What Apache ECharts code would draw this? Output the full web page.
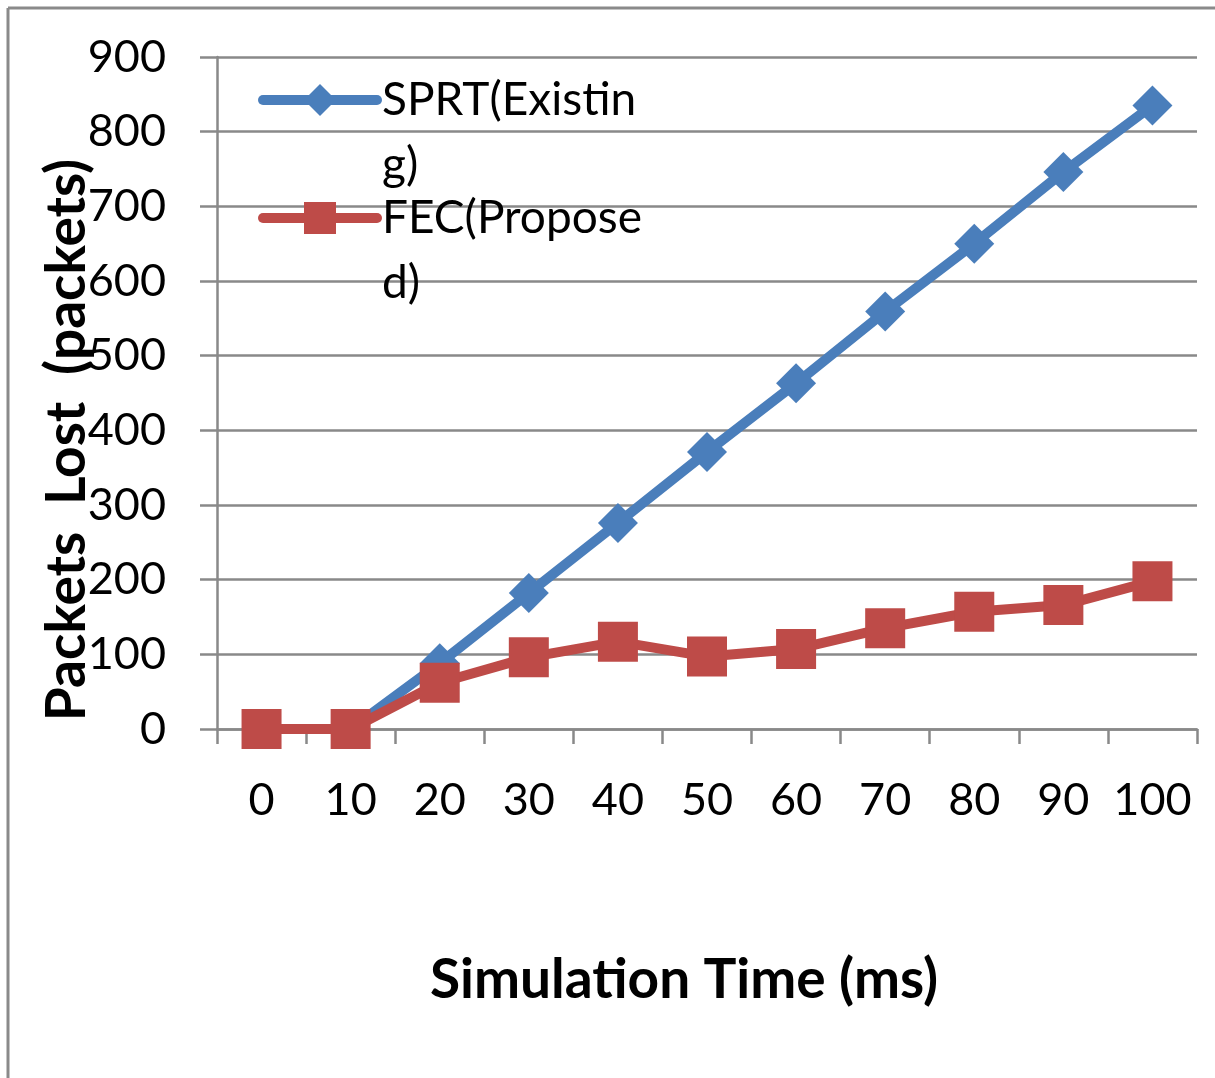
<!DOCTYPE html>
<html>
<head>
<meta charset="utf-8">
<script src="https://cdn.jsdelivr.net/npm/echarts@6/dist/echarts.min.js"></script>
<style>
html,body{margin:0;padding:0;background:#fff;}
#chart{width:1215px;height:1078px;}
</style>
</head>
<body>
<div id="chart"></div>
<script>
const categories = ['0','10','20','30','40','50','60','70','80','90','100'];
const sprtValues = [0, 0, 88, 182, 276, 371, 463, 559, 650, 746, 835];
const fecValues = [0, 0, 62, 96, 117, 97, 107, 135, 157, 166, 198];
const seriesNames = ['SPRT(Existing)', 'FEC(Proposed)'];
const legendLabels = {'SPRT(Existing)': '\nSPRT(Existin\ng)', 'FEC(Proposed)': '\nFEC(Propose\nd)'};
const xTitle = 'Simulation Time (ms)';
const yTitle = 'Packets  Lost  (packets)';

const FONT = 'Lato';
const gridColor = '#898989';

const chart = echarts.init(document.getElementById('chart'));

function legendFor(name, top) {
  return {
    data: [name],
    left: 258,
    top: top,
    padding: 0,
    orient: 'vertical',
    itemWidth: 114,
    itemHeight: 40,
    lineStyle: { width: 10, cap: 'round' },
    formatter: function (n) { return legendLabels[n]; },
    textStyle: {
      fontFamily: FONT,
      fontSize: 46,
      color: '#000',
      lineHeight: 65
    }
  };
}

chart.setOption({
  animation: false,
  backgroundColor: '#fff',
  textStyle: { fontFamily: FONT },
  grid: { left: 217, right: 18, top: 57, bottom: 349, containLabel: false },
  legend: [legendFor(seriesNames[0], 2.5), legendFor(seriesNames[1], 120.5)],
  graphic: [
    { type: 'line', shape: { x1: 8, y1: 8, x2: 1215, y2: 8 }, style: { stroke: '#8a8a8a', lineWidth: 3 } },
    { type: 'line', shape: { x1: 8, y1: 8, x2: 8, y2: 1078 }, style: { stroke: '#8a8a8a', lineWidth: 3 } },
    { type: 'text', x: 684, y: 980,
      style: { text: xTitle, fontFamily: FONT, fontSize: 55, fontWeight: 'bold', fill: '#000', align: 'center', verticalAlign: 'middle' } },
    { type: 'text', x: 67, y: 440, rotation: Math.PI / 2,
      style: { text: yTitle, fontFamily: FONT, fontSize: 55, fontWeight: 'bold', fill: '#000', align: 'center', verticalAlign: 'middle' } }
  ],
  xAxis: {
    type: 'category',
    data: categories,
    boundaryGap: true,
    axisLine: { lineStyle: { color: gridColor, width: 2.5 } },
    axisTick: { show: true, length: 15, interval: 0, lineStyle: { color: gridColor, width: 2.5 } },
    axisLabel: { fontFamily: FONT, fontSize: 45, color: '#000', margin: 49, interval: 0 },
    splitLine: { show: false }
  },
  yAxis: {
    type: 'value',
    min: 0,
    max: 900,
    interval: 100,
    axisLine: { show: true, lineStyle: { color: gridColor, width: 2.5 } },
    axisTick: { show: true, length: 17, lineStyle: { color: gridColor, width: 2.5 } },
    axisLabel: { fontFamily: FONT, fontSize: 45, color: '#000', margin: 51 },
    splitLine: { show: true, lineStyle: { color: gridColor, width: 2.5 } }
  },
  series: [
    {
      name: seriesNames[0],
      type: 'line',
      data: sprtValues,
      symbol: 'diamond',
      symbolSize: 40,
      lineStyle: { color: '#4a7ebb', width: 10 },
      itemStyle: { color: '#4a7ebb' },
      z: 2
    },
    {
      name: seriesNames[1],
      type: 'line',
      data: fecValues,
      symbol: 'rect',
      symbolSize: 40,
      lineStyle: { color: '#be4b48', width: 10 },
      itemStyle: { color: '#be4b48' },
      z: 3
    }
  ]
});
</script>
</body>
</html>
